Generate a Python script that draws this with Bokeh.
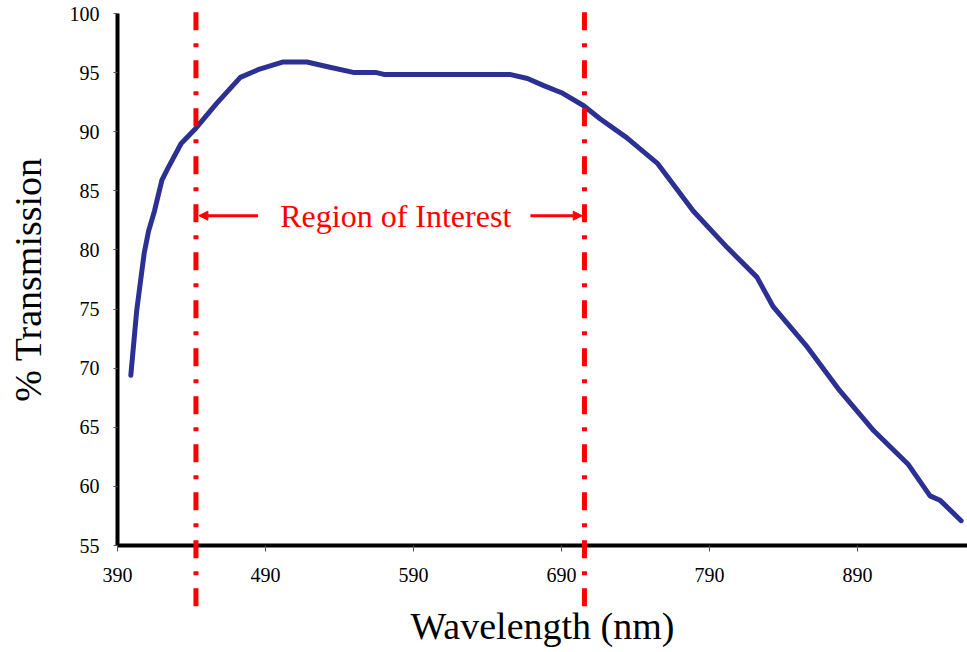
from bokeh.plotting import figure
from bokeh.models import Range1d, FixedTicker, Arrow, NormalHead, Label
from bokeh.embed import file_html
from bokeh.resources import INLINE

# ---- data ----
wavelength = [399, 403, 408, 411, 415, 420, 424, 433, 443, 457, 473, 486, 502, 518,
              532, 550, 565, 570, 655, 667, 678, 690, 705, 716, 734, 755, 779, 802,
              822, 833, 856, 878, 901, 924, 939, 946, 960]
transmission = [69.4, 74.9, 79.7, 81.6, 83.3, 85.9, 86.9, 89.0, 90.3, 92.4, 94.6, 95.3,
                95.9, 95.9, 95.5, 95.0, 95.0, 94.85, 94.85, 94.5, 93.9, 93.3, 92.2, 91.1,
                89.5, 87.3, 83.3, 80.2, 77.7, 75.2, 71.8, 68.1, 64.7, 61.9, 59.2, 58.8, 57.1]
x_ticks = [390, 490, 590, 690, 790, 890]
y_ticks = [55, 60, 65, 70, 75, 80, 85, 90, 95, 100]
x_axis_bounds = (390, 964)
y_axis_bounds = (55, 100)
# the view spans the whole canvas so that the dashed limits can run below the axis
x_view = (310.95, 964.3)
y_view = (45.95, 101.1)
roi_bounds = [443, 705.5]          # region of interest limits (nm)
roi_line_span = (100.1, 49.3)
roi_text = "Region of Interest"
roi_level = 82.9                   # height of the annotation (% transmission)
roi_arrow_left = [485, 445]        # start, end (nm)
roi_arrow_right = [669, 704]
roi_label_x = 578

SERIF = "Liberation Serif"

p = figure(width=967, height=652, output_backend="svg", toolbar_location=None,
           x_range=Range1d(*x_view), y_range=Range1d(*y_view), min_border=0,
           min_border_left=0, min_border_right=0, min_border_top=0,
           min_border_bottom=0)
p.outline_line_color = None
p.grid.visible = False
p.background_fill_color = "white"
p.border_fill_color = "white"

for ax in (p.xaxis[0], p.yaxis[0]):
    ax.axis_line_width = 4
    ax.axis_line_color = "black"
    ax.minor_tick_line_color = None
    ax.major_tick_in = 0
    ax.major_tick_line_width = 1
    ax.major_tick_line_color = "#555555"
    ax.major_label_text_font = SERIF
    ax.major_label_text_font_size = "20px"
    ax.major_label_text_color = "black"
    ax.axis_label_text_font = SERIF
    ax.axis_label_text_font_style = "normal"
    ax.axis_label_text_color = "black"

p.xaxis.fixed_location = y_axis_bounds[0]
p.xaxis.bounds = x_axis_bounds
p.xaxis.ticker = FixedTicker(ticks=x_ticks)
p.xaxis.major_tick_out = 6
p.xaxis.major_label_standoff = 16
p.xaxis.axis_label = "Wavelength (nm)"
p.xaxis.axis_label_text_font_size = "38px"
p.xaxis.axis_label_standoff = 20

p.yaxis.fixed_location = x_axis_bounds[0]
p.yaxis.bounds = y_axis_bounds
p.yaxis.ticker = FixedTicker(ticks=y_ticks)
p.yaxis.major_tick_out = 4
p.yaxis.major_label_standoff = 14
p.yaxis.axis_label = "% Transmission"
p.yaxis.axis_label_text_font_size = "38px"
p.yaxis.axis_label_standoff = 18

p.line(wavelength, transmission, line_color="#2D3093", line_width=5,
       line_join="round", line_cap="round")

for xb in roi_bounds:
    p.add_layout(Arrow(end=None, x_start=xb, x_end=xb,
                       y_start=roi_line_span[0], y_end=roi_line_span[1],
                       line_color="red", line_width=5, line_dash="18 13 4 13"))

for a in (roi_arrow_left, roi_arrow_right):
    p.add_layout(Arrow(end=NormalHead(size=9, fill_color="red", line_color="red", line_width=1),
                       x_start=a[0], x_end=a[1], y_start=roi_level, y_end=roi_level,
                       line_color="red", line_width=3))

p.add_layout(Label(x=roi_label_x, y=roi_level, text=roi_text, text_align="center",
                   text_baseline="middle", text_font=SERIF, text_font_size="32px",
                   text_color="red"))

open("out.html", "w").write(file_html(p, INLINE))
